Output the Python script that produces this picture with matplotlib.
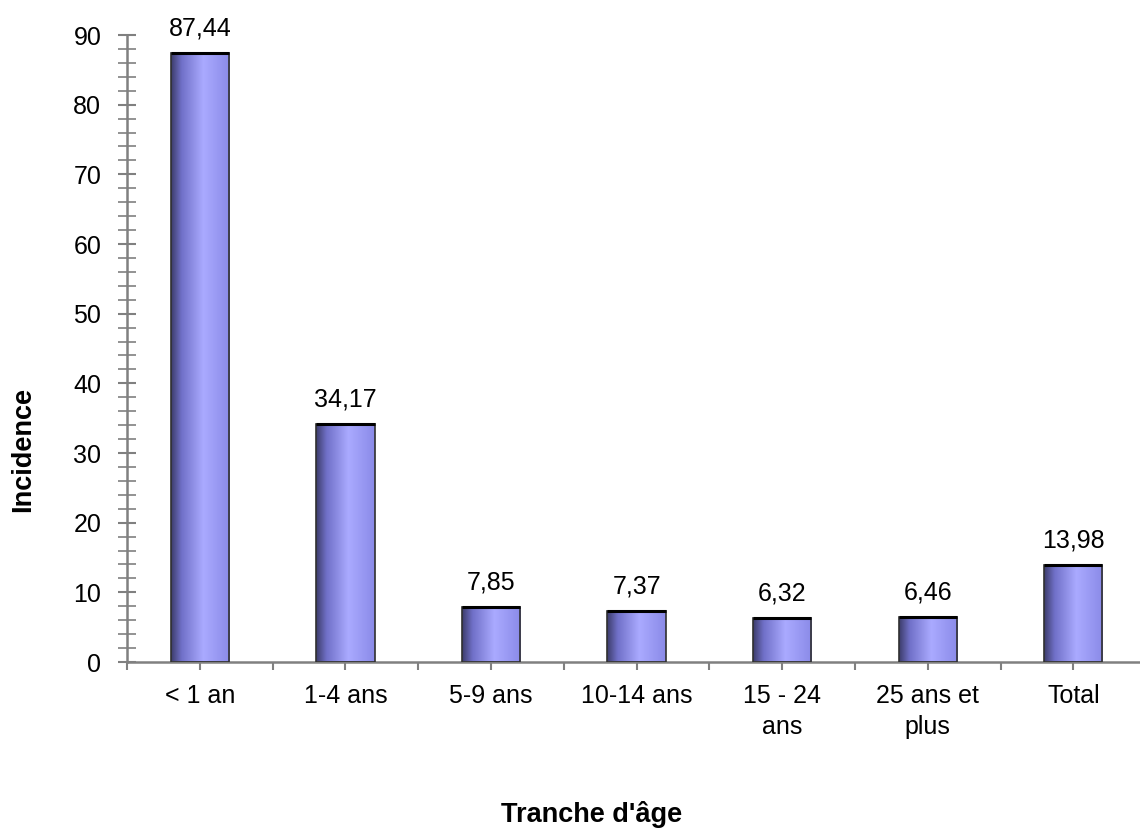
import numpy as np
import matplotlib.pyplot as plt
from matplotlib.colors import LinearSegmentedColormap
from matplotlib.ticker import MultipleLocator

categories = ["< 1 an", "1-4 ans", "5-9 ans", "10-14 ans", "15 - 24\nans", "25 ans et\nplus", "Total"]
values = [87.44, 34.17, 7.85, 7.37, 6.32, 6.46, 13.98]
value_labels = ["87,44", "34,17", "7,85", "7,37", "6,32", "6,46", "13,98"]

plt.rcParams['font.family'] = ['Liberation Sans', 'DejaVu Sans']

fig = plt.figure(figsize=(11.4, 8.3), dpi=100)
ax = fig.add_axes([0.1114, 0.2024, 0.894, 0.7554])

# gradient bar fill (dark left edge -> light center -> a bit darker right)
cmap = LinearSegmentedColormap.from_list(
    "bar", [(0.0, "#3c3c6a"), (0.18, "#7070c8"), (0.55, "#aaaaff"), (1.0, "#8a8ae8")])
grad = np.linspace(0, 1, 256).reshape(1, -1)

x = np.arange(len(categories))
width = 0.4
bars = ax.bar(x, values, width=width, color="none", edgecolor="#303030", linewidth=1.2, zorder=3)
for b in bars:
    x0, y0 = b.get_x(), b.get_y()
    w, h = b.get_width(), b.get_height()
    im = ax.imshow(grad, cmap=cmap, aspect="auto", extent=[x0, x0 + w, y0, y0 + h], zorder=2)
    im.set_clip_path(b)
    ax.plot([x0, x0 + w], [y0 + h, y0 + h], color="black", lw=2.2, zorder=4, solid_capstyle="butt")

for xi, v, lab in zip(x, values, value_labels):
    ax.annotate(lab, (xi, v), xytext=(0, 12.5), textcoords="offset points",
                ha="center", va="baseline", fontsize=18)

ax.set_xlim(-0.5, 6.5)
ax.set_ylim(0, 90)
ax.set_aspect("auto")

ax.yaxis.set_major_locator(MultipleLocator(10))
ax.yaxis.set_minor_locator(MultipleLocator(2))
ax.set_xticks(x)
ax.set_xticklabels(categories, fontsize=18, linespacing=1.38)
ax.set_xticks(np.arange(-0.5, 7, 1), minor=True)
ax.tick_params(axis="y", which="major", direction="inout", length=13, width=1.5, color="#808080",
               labelsize=18, pad=12)
ax.tick_params(axis="y", which="minor", direction="inout", length=13, width=1.2, color="#808080")
ax.tick_params(axis="x", which="major", direction="inout", length=12, width=1.5, color="#808080", pad=10)
ax.tick_params(axis="x", which="minor", direction="out", length=6, width=1.5, color="#808080")

for s in ["top", "right"]:
    ax.spines[s].set_visible(False)
for s in ["left", "bottom"]:
    ax.spines[s].set_color("#808080")
    ax.spines[s].set_linewidth(1.8)

fig.text(23 / 1140, 1 - 450 / 830, "Incidence", rotation=90, ha="center", va="center",
         fontsize=19.5, fontweight="bold")
fig.text(592 / 1140, 1 - 822 / 830, "Tranche d'âge", ha="center", va="baseline",
         fontsize=19.5, fontweight="bold")

fig.savefig("out.png", dpi=100)
